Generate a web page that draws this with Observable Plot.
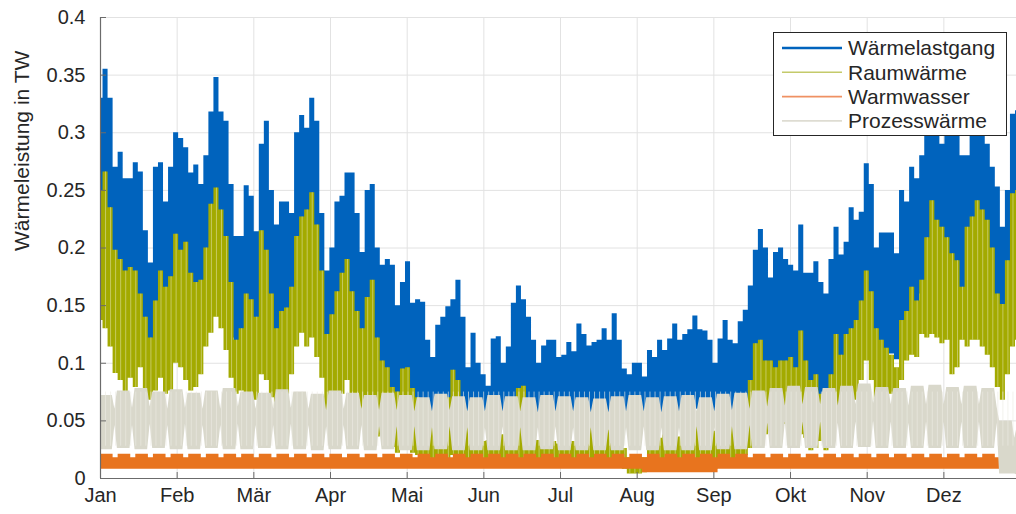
<!DOCTYPE html>
<html><head><meta charset="utf-8">
<script src="https://cdn.jsdelivr.net/npm/d3@7"></script>
<script src="https://cdn.jsdelivr.net/npm/@observablehq/plot@0.6"></script>
<style>
body{margin:0;background:#fff;}
#wrap{position:relative;width:1016px;height:514px;overflow:hidden;font-family:"Liberation Sans",Arial,Helvetica,sans-serif;color:#262626;}
#legend{position:absolute;left:773px;top:32px;width:232px;height:102px;border:1.3px solid #262626;background:#fff;}
#legend svg{position:absolute;left:0;top:0;}
</style></head><body><div id="wrap"></div>
<script>
// ---- categories / tick labels ----
const monthLabels = ["Jan","Feb","Mär","Apr","Mai","Jun","Jul","Aug","Sep","Okt","Nov","Dez"];
const yTicks = [0, 0.05, 0.1, 0.15, 0.2, 0.25, 0.3, 0.35, 0.4];
const seriesNames = ["Wärmelastgang","Raumwärme","Warmwasser","Prozesswärme"];
const sampleStep = 2; // days between envelope samples

// ---- Wärmelastgang: daily max / min envelope (TW), every 2 days ----
const blueMax = [
0.33,0.355,0.33,0.27,0.283,0.26,0.26,0.274,0.266,0.215,
0.187,0.27,0.274,0.24,0.27,0.30,0.295,0.287,0.265,0.272,
0.255,0.28,0.318,0.348,0.318,0.31,0.255,0.21,0.21,0.254,
0.245,0.214,0.29,0.31,0.25,0.22,0.24,0.24,0.23,0.30,
0.315,0.304,0.33,0.31,0.23,0.18,0.2,0.24,0.245,0.265,
0.265,0.23,0.196,0.25,0.255,0.2,0.185,0.19,0.185,0.15,
0.17,0.188,0.152,0.155,0.153,0.12,0.105,0.133,0.14,0.149,
0.155,0.172,0.14,0.096,0.126,0.10,0.09,0.08,0.121,0.123,
0.1,0.114,0.152,0.167,0.155,0.14,0.12,0.1,0.115,0.12,
0.12,0.105,0.107,0.118,0.11,0.134,0.125,0.115,0.118,0.12,
0.13,0.12,0.143,0.12,0.095,0.09,0.1,0.1,0.088,0.111,
0.105,0.12,0.111,0.121,0.134,0.12,0.125,0.129,0.141,0.129,
0.128,0.12,0.1,0.121,0.137,0.12,0.117,0.136,0.146,0.167,
0.198,0.216,0.2,0.174,0.196,0.2,0.19,0.185,0.18,0.22,
0.178,0.178,0.188,0.17,0.16,0.19,0.218,0.194,0.205,0.235,
0.224,0.231,0.273,0.255,0.2,0.213,0.213,0.213,0.195,0.25,
0.24,0.27,0.26,0.28,0.30,0.31,0.30,0.29,0.31,0.30,
0.31,0.28,0.28,0.30,0.31,0.30,0.29,0.27,0.253,0.218,
0.25,0.316,0.319];
const blueMin = [
0.17,0.165,0.15,0.125,0.12,0.108,0.12,0.114,0.13,0.108,
0.105,0.11,0.122,0.108,0.11,0.135,0.13,0.12,0.11,0.114,
0.125,0.15,0.16,0.175,0.165,0.146,0.122,0.11,0.11,0.108,
0.103,0.103,0.125,0.12,0.105,0.097,0.103,0.108,0.125,0.15,
0.16,0.15,0.157,0.14,0.122,0.092,0.09,0.103,0.108,0.12,
0.097,0.086,0.083,0.09,0.097,0.072,0.073,0.066,0.063,0.06,
0.062,0.062,0.058,0.056,0.055,0.056,0.055,0.058,0.06,0.058,
0.06,0.062,0.058,0.052,0.056,0.054,0.05,0.046,0.055,0.056,
0.054,0.056,0.06,0.062,0.06,0.056,0.054,0.05,0.055,0.056,
0.055,0.05,0.054,0.056,0.055,0.058,0.056,0.054,0.055,0.056,
0.058,0.056,0.058,0.055,0.05,0.046,0.05,0.052,0.05,0.054,
0.055,0.056,0.056,0.058,0.058,0.056,0.057,0.058,0.06,0.058,
0.058,0.056,0.05,0.056,0.058,0.058,0.056,0.058,0.06,0.062,
0.08,0.085,0.075,0.08,0.07,0.08,0.082,0.07,0.065,0.073,
0.07,0.06,0.062,0.067,0.06,0.073,0.085,0.09,0.08,0.097,
0.103,0.12,0.137,0.12,0.103,0.108,0.108,0.108,0.103,0.12,
0.137,0.142,0.14,0.16,0.157,0.16,0.157,0.152,0.155,0.125,
0.13,0.155,0.15,0.155,0.155,0.15,0.142,0.13,0.11,0.1,
0.12,0.15,0.155];

// ---- Raumwärme envelope ----
const greenMax = [
0.25,0.266,0.235,0.198,0.19,0.18,0.183,0.18,0.16,0.14,
0.122,0.154,0.18,0.166,0.175,0.212,0.198,0.205,0.178,0.17,
0.172,0.2,0.238,0.252,0.233,0.21,0.17,0.12,0.13,0.16,
0.155,0.14,0.215,0.198,0.16,0.13,0.145,0.148,0.166,0.21,
0.227,0.233,0.248,0.22,0.18,0.125,0.142,0.162,0.178,0.19,
0.162,0.145,0.13,0.157,0.172,0.122,0.102,0.096,0.079,0.075,
0.095,0.096,0.078,0.07,0.044,0.05,0.045,0.04,0.047,0.07,
0.094,0.085,0.06,0.047,0.04,0.036,0.032,0.033,0.035,0.038,
0.038,0.048,0.06,0.078,0.08,0.055,0.04,0.033,0.03,0.03,
0.032,0.03,0.03,0.03,0.032,0.038,0.038,0.045,0.05,0.047,
0.038,0.042,0.055,0.038,0.026,0.018,0.012,0.012,0.018,0.026,
0.03,0.035,0.038,0.041,0.04,0.036,0.038,0.048,0.052,0.05,
0.047,0.042,0.041,0.045,0.053,0.058,0.052,0.045,0.06,0.085,
0.117,0.12,0.102,0.102,0.096,0.102,0.102,0.105,0.096,0.128,
0.102,0.085,0.09,0.073,0.068,0.09,0.125,0.107,0.125,0.13,
0.137,0.154,0.18,0.162,0.13,0.12,0.113,0.107,0.096,0.137,
0.145,0.166,0.154,0.172,0.209,0.241,0.224,0.218,0.209,0.195,
0.189,0.166,0.218,0.227,0.241,0.233,0.224,0.2,0.16,0.151,
0.189,0.247,0.25];
const greenMin = [
0.137,0.13,0.114,0.091,0.085,0.073,0.087,0.079,0.096,0.073,
0.068,0.076,0.087,0.073,0.076,0.1,0.096,0.085,0.076,0.079,
0.09,0.114,0.126,0.14,0.13,0.111,0.087,0.073,0.076,0.073,
0.068,0.068,0.09,0.085,0.07,0.062,0.068,0.073,0.09,0.114,
0.126,0.114,0.122,0.105,0.087,0.056,0.053,0.068,0.073,0.085,
0.062,0.05,0.048,0.056,0.062,0.036,0.038,0.03,0.027,0.022,
0.027,0.027,0.022,0.02,0.02,0.018,0.015,0.015,0.012,0.015,
0.02,0.018,0.012,0.01,0.01,0.009,0.009,0.009,0.01,0.01,
0.01,0.01,0.012,0.014,0.014,0.012,0.01,0.009,0.009,0.009,
0.009,0.009,0.009,0.009,0.009,0.01,0.01,0.01,0.011,0.01,
0.009,0.009,0.01,0.009,0.008,0.004,0.004,0.004,0.005,0.007,
0.008,0.008,0.008,0.009,0.009,0.008,0.008,0.009,0.01,0.01,
0.009,0.009,0.008,0.009,0.01,0.01,0.01,0.015,0.02,0.026,
0.044,0.05,0.038,0.044,0.035,0.044,0.047,0.035,0.03,0.038,
0.035,0.024,0.026,0.032,0.024,0.038,0.05,0.056,0.044,0.062,
0.068,0.085,0.102,0.085,0.068,0.073,0.073,0.073,0.068,0.085,
0.102,0.107,0.105,0.125,0.122,0.125,0.122,0.117,0.12,0.09,
0.096,0.12,0.114,0.12,0.12,0.114,0.107,0.096,0.079,0.068,
0.09,0.114,0.12];

// ---- Prozesswärme: per week, weekday (Mo-Fr) and weekend (So) range ----
const grayWdMax = [0.072,0.076,0.078,0.075,0.077,0.074,0.076,0.078,0.075,0.074,0.077,0.075,0.073,0.076,0.074,0.072,0.074,
0.072,0.07,0.073,0.071,0.07,0.072,0.071,0.07,0.072,0.071,0.07,0.069,0.071,0.072,0.07,0.071,0.072,0.07,0.073,0.074,
0.076,0.078,0.08,0.079,0.078,0.08,0.082,0.079,0.078,0.08,0.081,0.079,0.08,0.078,
0.05,0.045];
const grayWdMin = [0.025,0.026,0.025,0.026,0.025,0.025,0.026,0.025,0.025,0.026,0.025,0.025,0.024,0.025,0.025,0.024,0.025,
0.024,0.024,0.025,0.024,0.024,0.024,0.024,0.024,0.025,0.024,0.024,0.024,0.024,0.024,0.024,0.024,0.024,0.024,0.025,0.025,
0.026,0.026,0.026,0.026,0.026,0.026,0.027,0.026,0.026,0.026,0.026,0.026,0.026,0.026,
0.004,0.003];
const grayWeMax = [0.06,0.061,0.062,0.06,0.061,0.06,0.06,0.062,0.06,0.06,0.061,0.06,0.059,0.06,0.06,0.059,0.059,
0.058,0.058,0.059,0.058,0.058,0.058,0.058,0.057,0.058,0.058,0.057,0.057,0.058,0.058,0.057,0.058,0.058,0.058,0.059,0.06,
0.062,0.063,0.064,0.064,0.063,0.064,0.065,0.064,0.063,0.064,0.064,0.064,0.064,0.062,
0.035,0.03];
const grayWeMin = [0.046,0.046,0.047,0.046,0.047,0.046,0.046,0.047,0.046,0.046,0.047,0.046,0.045,0.046,0.046,0.045,0.045,
0.045,0.044,0.045,0.044,0.044,0.045,0.044,0.044,0.045,0.044,0.044,0.043,0.044,0.045,0.044,0.044,0.045,0.044,0.045,0.046,
0.048,0.049,0.049,0.049,0.048,0.049,0.05,0.049,0.048,0.049,0.049,0.049,0.049,0.048,
0.004,0.003];

// ---- Warmwasser: per month ----
const orangeWdMax = [0.021,0.021,0.021,0.021,0.021,0.021,0.021,0.021,0.021,0.021,0.021,0.021];
const orangeWeMax = [0.018,0.018,0.018,0.018,0.018,0.018,0.018,0.018,0.018,0.018,0.018,0.018];
const orangeMin   = [0.008,0.008,0.008,0.008,0.008,0.008,0.008,0.005,0.008,0.008,0.008,0.008];

const colors = {blue:"#0063bd", green:"#a3aa00", orange:"#e8741e", gray:"#d9d8cb"};
const legendColors = ["#0063bd","#c4ca6a","#ef9163","#dedcd2"];

// ---- checks ----
for (const [n,a] of Object.entries({blueMin,greenMax,greenMin}))
  if (a.length !== blueMax.length) throw new Error(n+" length "+a.length+" vs "+blueMax.length);
for (const [n,a] of Object.entries({grayWdMin,grayWeMax,grayWeMin}))
  if (a.length !== grayWdMax.length) throw new Error(n+" length "+a.length+" vs "+grayWdMax.length);

// ---- tables ----
const yearDays = 365;
const monthLen = yearDays / 12;
const monthTicks = monthLabels.map((_, i) => i * monthLen);
const env = (lo, hi) => hi.map((v, i) => ({d: i * sampleStep, lo: lo[i], hi: v}));
const blueRows = env(blueMin, blueMax);
const greenRows = env(greenMin, greenMax);
// weekly pattern: weekday plateau, Sunday notch
const grayRows = [];
grayWdMax.forEach((v, k) => {
  const s = 7 * k;
  if (s >= yearDays) return;
  grayRows.push({d: Math.max(0, s - 0.3), lo: grayWdMin[k], hi: v});
  if (s + 4.7 < yearDays) grayRows.push({d: s + 4.7, lo: grayWdMin[k], hi: v});
  if (s + 5.7 < yearDays) grayRows.push({d: s + 5.7, lo: grayWeMin[k], hi: grayWeMax[k]});
});
grayRows.push({d: yearDays, lo: grayWdMin[grayWdMin.length-1], hi: grayWdMax[grayWdMax.length-1]});
const orangeRows = [];
for (let k = 0; 7*k < yearDays; k++) {
  const m = Math.min(11, Math.floor(7*k / monthLen));
  const m2 = Math.min(11, Math.floor((7*k+5) / monthLen));
  orangeRows.push({d: 7*k, lo: orangeMin[m], hi: orangeWdMax[m]});
  orangeRows.push({d: 7*k + 5, lo: orangeMin[m2], hi: orangeWeMax[m2]});
}
orangeRows.push({d: yearDays, lo: orangeMin[11], hi: orangeWdMax[11]});

// visible part of the year (the figure is cropped on the right)
const xVisibleEnd = 363.4;
const font = '"Liberation Sans", Arial, Helvetica, sans-serif';
const fmt = d => String(d);

const chart = Plot.plot({
  width: 1016, height: 514,
  marginLeft: 100, marginRight: 0, marginTop: 17, marginBottom: 36,
  style: {fontFamily: font, fontSize: "20px", color: "#262626", background: "#ffffff", overflow: "hidden"},
  x: {domain: [0, xVisibleEnd], axis: null},
  y: {domain: [0, 0.4], axis: null},
  marks: [
    Plot.gridX(monthTicks, {stroke: "#e2e2e2", strokeOpacity: 1, strokeWidth: 1}),
    Plot.gridY(yTicks, {stroke: "#e2e2e2", strokeOpacity: 1, strokeWidth: 1}),
    Plot.areaY(blueRows, {x: "d", y1: "lo", y2: "hi", fill: colors.blue, curve: "step", clip: true}),
    Plot.areaY(greenRows, {x: "d", y1: "lo", y2: "hi", fill: colors.green, curve: "step", clip: true}),
    Plot.ruleX(greenRows, {x: "d", y1: "lo", y2: "hi", stroke: "#d6d98f", strokeWidth: 0.9, strokeOpacity: 0.75, clip: true}),
    Plot.areaY(orangeRows, {x: "d", y1: "lo", y2: "hi", fill: colors.orange, curve: "step-after", clip: true}),
    Plot.areaY(grayRows, {x: "d", y1: "lo", y2: "hi", fill: colors.gray, curve: "linear", clip: true}),
    Plot.ruleX(blueRows, {x: "d", y1: 0.075, y2: 0.028, stroke: "#ecebe2", strokeWidth: 0.8, strokeOpacity: 0.8, clip: true}),
    Plot.ruleX([0], {stroke: "#6b6b6b", strokeWidth: 1.2}),
    Plot.ruleY([0], {stroke: "#6b6b6b", strokeWidth: 1.2}),
    Plot.axisX(monthTicks, {tickSize: 6, dy: -6, tickFormat: () => "", stroke: "#6b6b6b", label: null}),
    Plot.axisY(yTicks, {tickSize: 6, dx: 6, tickFormat: () => "", stroke: "#6b6b6b", label: null}),
    Plot.axisX(monthTicks, {tickSize: 0, tickPadding: 9, tickFormat: d => monthLabels[Math.round(d / monthLen)], fill: "#262626", fontSize: 20, label: null}),
    Plot.axisY(yTicks, {tickSize: 0, tickPadding: 15, tickFormat: fmt, fill: "#262626", fontSize: 20, label: null}),
    Plot.text(["Wärmeleistung in TW"], {frameAnchor: "left", rotate: -90, dx: -78, dy: 3, fontSize: 21, fill: "#262626"})
  ]
});

const wrap = document.getElementById("wrap");
wrap.appendChild(chart);

// legend (inside the axes, top right)
const leg = document.createElement("div");
leg.id = "legend";
const ns = "http://www.w3.org/2000/svg";
const lsvg = document.createElementNS(ns, "svg");
lsvg.setAttribute("width", 232); lsvg.setAttribute("height", 102);
seriesNames.forEach((name, i) => {
  const cy = 15 + i * 24.3;
  const ln = document.createElementNS(ns, "line");
  ln.setAttribute("x1", 8); ln.setAttribute("x2", 68);
  ln.setAttribute("y1", cy); ln.setAttribute("y2", cy);
  ln.setAttribute("stroke", legendColors[i]);
  ln.setAttribute("stroke-width", i === 0 ? 2.4 : 1.6);
  lsvg.appendChild(ln);
  const tx = document.createElementNS(ns, "text");
  tx.setAttribute("x", 74); tx.setAttribute("y", cy);
  tx.setAttribute("dy", "0.35em");
  tx.setAttribute("font-size", 21);
  tx.setAttribute("font-family", font);
  tx.setAttribute("fill", "#262626");
  tx.textContent = name;
  lsvg.appendChild(tx);
});
leg.appendChild(lsvg);
wrap.appendChild(leg);
</script></body></html>
